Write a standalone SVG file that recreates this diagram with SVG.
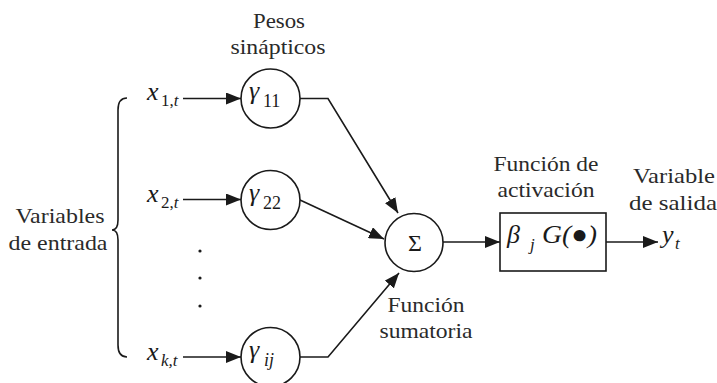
<svg xmlns="http://www.w3.org/2000/svg" width="717" height="383" viewBox="0 0 717 383" font-family="Liberation Serif">
<defs>
<marker id="ah" markerUnits="userSpaceOnUse" markerWidth="16" markerHeight="12" refX="15" refY="6" orient="auto">
<path d="M0,0 L15,6 L0,12 Z" fill="#1a1a1a"/>
</marker>
</defs>
<rect width="717" height="383" fill="#fff"/>

<g id="labels" font-family="Liberation Serif" font-size="21" fill="#2a2a2a" text-anchor="middle" lengthAdjust="spacingAndGlyphs">
<text x="279" y="28" textLength="52" lengthAdjust="spacingAndGlyphs">Pesos</text>
<text x="278" y="54" textLength="95" lengthAdjust="spacingAndGlyphs">sinápticos</text>
<text x="60" y="223" textLength="89" lengthAdjust="spacingAndGlyphs">Variables</text>
<text x="58" y="250" textLength="99" lengthAdjust="spacingAndGlyphs">de entrada</text>
<text x="426" y="312" textLength="77" lengthAdjust="spacingAndGlyphs">Función</text>
<text x="426" y="338" textLength="93" lengthAdjust="spacingAndGlyphs">sumatoria</text>
<text x="546" y="171" textLength="105" lengthAdjust="spacingAndGlyphs">Función de</text>
<text x="546" y="197" textLength="97" lengthAdjust="spacingAndGlyphs">activación</text>
<text x="674" y="183" textLength="82" lengthAdjust="spacingAndGlyphs">Variable</text>
<text x="673" y="210" textLength="88" lengthAdjust="spacingAndGlyphs">de salida</text>
</g>

<g id="brace" fill="none" stroke="#1a1a1a" stroke-width="1.6">
<path d="M127,98 Q118,98 118,110 L118,220 Q118,230 112,230 Q118,230 118,240 L118,345 Q118,357 127,357"/>
</g>

<g id="inputs" font-family="Liberation Serif" fill="#1a1a1a">
<g id="input-x1">
<text x="147" y="100" font-size="26" font-style="italic">x</text><text x="161" y="106" font-size="17">1,<tspan font-style="italic">t</tspan></text>
</g>
<g id="input-x2">
<text x="147" y="202" font-size="26" font-style="italic">x</text><text x="161" y="208" font-size="17">2,<tspan font-style="italic">t</tspan></text>
</g>
<g id="input-xk">
<text x="147" y="360" font-size="26" font-style="italic">x</text><text x="161" y="366" font-size="17" font-style="italic">k,t</text>
</g>
</g>
<g id="dots" fill="#1a1a1a">
<circle cx="200" cy="251" r="1.6"/>
<circle cx="200" cy="278" r="1.6"/>
<circle cx="200" cy="306" r="1.6"/>
</g>

<g id="nodes" font-family="Liberation Serif" fill="#1a1a1a">
<g id="w11">
<circle cx="270.5" cy="98.5" r="29.5" fill="#fff" stroke="#1a1a1a" stroke-width="1.6"/>
<text x="249" y="99" font-size="26" font-style="italic">γ</text><text x="263" y="107" font-size="18">11</text>
</g>
<g id="w22">
<circle cx="270.5" cy="200" r="29.5" fill="#fff" stroke="#1a1a1a" stroke-width="1.6"/>
<text x="249" y="201" font-size="26" font-style="italic">γ</text><text x="263" y="209" font-size="18">22</text>
</g>
<g id="wij">
<circle cx="270.5" cy="357" r="29.5" fill="#fff" stroke="#1a1a1a" stroke-width="1.6"/>
<text x="249" y="358" font-size="26" font-style="italic">γ</text><text x="264" y="366" font-size="18" font-style="italic">ij</text>
</g>
<g id="sum">
<circle cx="414" cy="242.5" r="29" fill="#fff" stroke="#1a1a1a" stroke-width="1.6"/>
<text x="415" y="251" font-size="24" text-anchor="middle">Σ</text>
</g>
<g id="activation">
<rect x="500" y="213" width="106" height="58" fill="#fff" stroke="#1a1a1a" stroke-width="1.6"/>
<text x="507" y="243" font-size="26" font-style="italic">β</text><text x="530" y="250" font-size="17" font-style="italic">j</text>
<text x="542" y="243" font-size="26" font-style="italic" textLength="55" lengthAdjust="spacingAndGlyphs">G(●)</text>
</g>
<g id="output">
<text x="662" y="243" font-size="26" font-style="italic">y</text><text x="675" y="249" font-size="17" font-style="italic">t</text>
</g>
</g>

<g id="connectors" fill="none" stroke="#1a1a1a" stroke-width="1.6">
<line x1="183" y1="98.5" x2="241" y2="98.5" marker-end="url(#ah)"/>
<line x1="183" y1="199.5" x2="241" y2="199.5" marker-end="url(#ah)"/>
<line x1="183" y1="357" x2="241" y2="357" marker-end="url(#ah)"/>
<path d="M300,98.5 L328,98.5 L398,213" marker-end="url(#ah)"/>
<path d="M300,200 L384,239" marker-end="url(#ah)"/>
<path d="M300,357 L328,357 L399,273" marker-end="url(#ah)"/>
<line x1="443" y1="242" x2="500" y2="242" marker-end="url(#ah)"/>
<line x1="606" y1="242" x2="658" y2="242" marker-end="url(#ah)"/>
</g>
</svg>
